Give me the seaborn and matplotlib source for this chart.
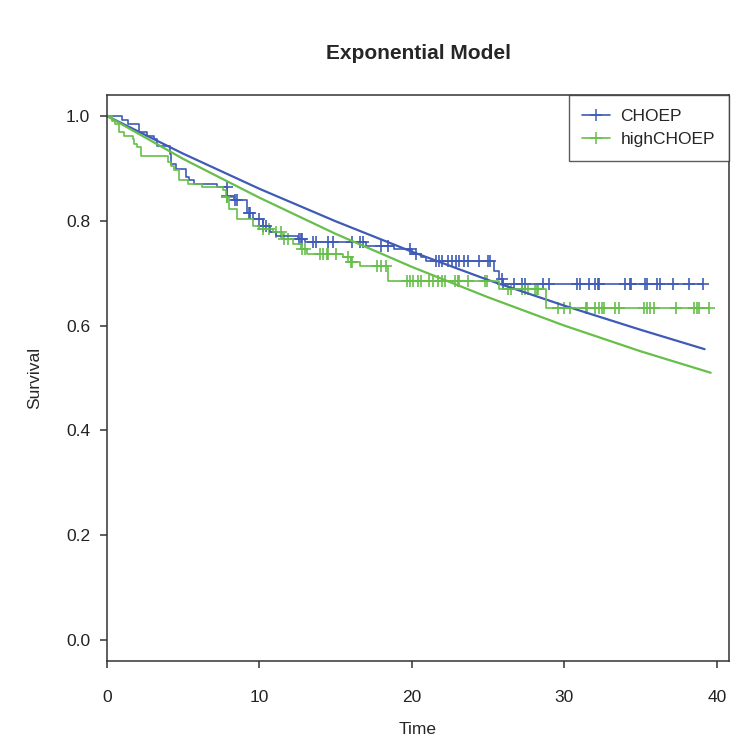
import numpy as np
import pandas as pd
import matplotlib
matplotlib.use("Agg")
import matplotlib.pyplot as plt
from matplotlib.lines import Line2D
import seaborn as sns

# Kaplan-Meier steps (time, survival)
choep_time = [0, 1.0, 1.4, 2.1, 2.6, 3.1, 3.3, 4.1, 4.2, 4.5, 5.2, 5.4, 5.7, 7.2, 7.9, 8.3,
              9.2, 9.6, 10.2, 10.7, 11.1, 12.5, 13.0, 17.0, 18.8, 20.0, 20.6, 20.9,
              25.4, 25.7, 26.0]
choep_surv = [1.0, 0.993, 0.985, 0.969, 0.962, 0.956, 0.943, 0.927, 0.908, 0.899, 0.884,
              0.877, 0.870, 0.865, 0.847, 0.840, 0.815, 0.803, 0.790, 0.779, 0.771,
              0.765, 0.759, 0.752, 0.746, 0.737, 0.730, 0.723, 0.704, 0.688, 0.679]
choep_cens = [7.85, 7.9, 8.4, 8.5, 9.3, 9.4, 10.0, 10.2, 10.4, 12.6, 12.7, 12.8, 13.5, 13.7,
              14.5, 14.8, 16.1, 16.6, 16.8, 18.0, 18.4, 19.9, 20.3, 21.6, 21.8, 22.0,
              22.4, 22.6, 22.9, 23.1, 23.4, 23.7, 24.4, 25.0, 25.1, 25.9, 26.0, 26.7,
              27.2, 27.4, 28.6, 29.0, 30.8, 31.0, 31.6, 32.0, 32.2, 32.3, 34.0, 34.3,
              34.4, 35.3, 35.4, 36.1, 36.3, 37.1, 38.2, 39.1]

high_time = [0, 0.3, 0.5, 0.8, 1.1, 1.7, 1.8, 2.0, 2.2, 4.0, 4.2, 4.4, 4.75, 5.3, 6.2, 7.6,
             7.8, 8.0, 8.5, 9.6, 10.0, 10.9, 11.5, 12.2, 12.7, 13.1, 15.5, 16.0, 16.6,
             18.4, 25.7, 28.8]
high_surv = [1.0, 0.99, 0.985, 0.97, 0.962, 0.956, 0.946, 0.94, 0.924, 0.912, 0.904,
             0.896, 0.877, 0.870, 0.865, 0.858, 0.845, 0.823, 0.803, 0.790, 0.785,
             0.778, 0.765, 0.755, 0.746, 0.737, 0.731, 0.721, 0.714, 0.686, 0.670, 0.634]
high_cens = [7.85, 7.9, 10.2, 10.6, 11.1, 11.4, 11.6, 11.9, 12.8, 13.0, 14.0, 14.2, 14.4,
             14.5, 15.0, 15.8, 16.0, 16.1, 17.7, 18.0, 18.3, 19.7, 19.9, 20.1, 20.4,
             20.6, 21.1, 21.4, 21.7, 22.0, 22.2, 22.8, 23.0, 23.1, 23.7, 24.8, 24.9,
             26.3, 26.5, 27.2, 27.4, 27.6, 28.1, 28.2, 28.3, 29.6, 30.0, 30.4, 31.4,
             31.5, 32.0, 32.3, 32.5, 32.6, 33.3, 33.6, 35.2, 35.4, 35.6, 35.9, 37.3,
             38.5, 38.7, 38.8, 39.5]

# exponential model curves
exp_time_choep = [0, 5, 10, 15, 20, 25, 30, 35, 39.2]
exp_surv_choep = [1.0, 0.928, 0.861, 0.799, 0.741, 0.687, 0.638, 0.592, 0.555]
exp_time_high = [0, 5, 10, 15, 20, 25, 30, 35, 39.6]
exp_surv_high = [1.0, 0.918, 0.844, 0.775, 0.712, 0.654, 0.600, 0.551, 0.510]

blue = "#3F5BB5"
green = "#66BF4A"


def km_frames(t, s, cens):
    steps = pd.DataFrame({"time": list(t) + [max(cens)], "surv": list(s) + [s[-1]]})
    idx = np.searchsorted(t, cens, side="right") - 1
    marks = pd.DataFrame({"time": cens, "surv": np.array(s)[idx]})
    return steps, marks


sns.set_style("ticks")
plt.rcParams["font.family"] = ["Liberation Sans", "DejaVu Sans"]

fig = plt.figure(figsize=(7.31, 7.40), dpi=100)
ax = fig.add_axes([107 / 731, 79 / 740, 622 / 731, 566 / 740])

groups = [(choep_time, choep_surv, choep_cens, exp_time_choep, exp_surv_choep, blue),
          (high_time, high_surv, high_cens, exp_time_high, exp_surv_high, green)]
for t, s, c, et, es, col in groups:
    steps, marks = km_frames(t, s, c)
    sns.lineplot(data=steps, x="time", y="surv", drawstyle="steps-post", estimator=None,
                 sort=False, color=col, lw=1.2, ax=ax)
    sns.scatterplot(data=marks, x="time", y="surv", marker="+", s=80, color=col,
                    linewidth=1.2, ax=ax)
    ef = pd.DataFrame({"time": et, "surv": es})
    sns.lineplot(data=ef, x="time", y="surv", estimator=None, sort=False, color=col,
                 lw=1.6, ax=ax)

ax.set_xlim(0, 40.8)
ax.set_ylim(-0.04, 1.04)
ax.set_xticks([0, 10, 20, 30, 40])
ax.set_yticks([0, 0.2, 0.4, 0.6, 0.8, 1.0])
ax.set_yticklabels(["0.0", "0.2", "0.4", "0.6", "0.8", "1.0"])
ax.tick_params(axis="both", direction="out", length=5, width=1.1, labelsize=12.5,
               color="#333333", labelcolor="#222222", bottom=True, left=True)
ax.tick_params(axis="x", pad=16)
ax.tick_params(axis="y", pad=7)
for sp in ax.spines.values():
    sp.set_visible(True)
    sp.set_color("#333333")
    sp.set_linewidth(1.1)

ax.set_title("Exponential Model", fontsize=15, fontweight="bold", pad=26)
ax.set_xlabel("Time", fontsize=12.5)
ax.set_ylabel("Survival", fontsize=12.5)
ax.xaxis.set_label_coords(0.5, -0.108)
ax.yaxis.set_label_coords(-0.105, 0.5)

handles = [Line2D([], [], color=blue, marker="+", markersize=9, lw=1.2, mew=1.1),
           Line2D([], [], color=green, marker="+", markersize=9, lw=1.2, mew=1.1)]
leg = ax.legend(handles, ["CHOEP", "highCHOEP"], loc="upper right", borderaxespad=0,
                fontsize=12.5, frameon=True, fancybox=False, handlelength=1.6,
                handletextpad=0.6, labelspacing=0.43, borderpad=0.8)
leg.get_frame().set_edgecolor("#333333")
leg.get_frame().set_linewidth(1.0)

fig.savefig("out.png", dpi=100)
